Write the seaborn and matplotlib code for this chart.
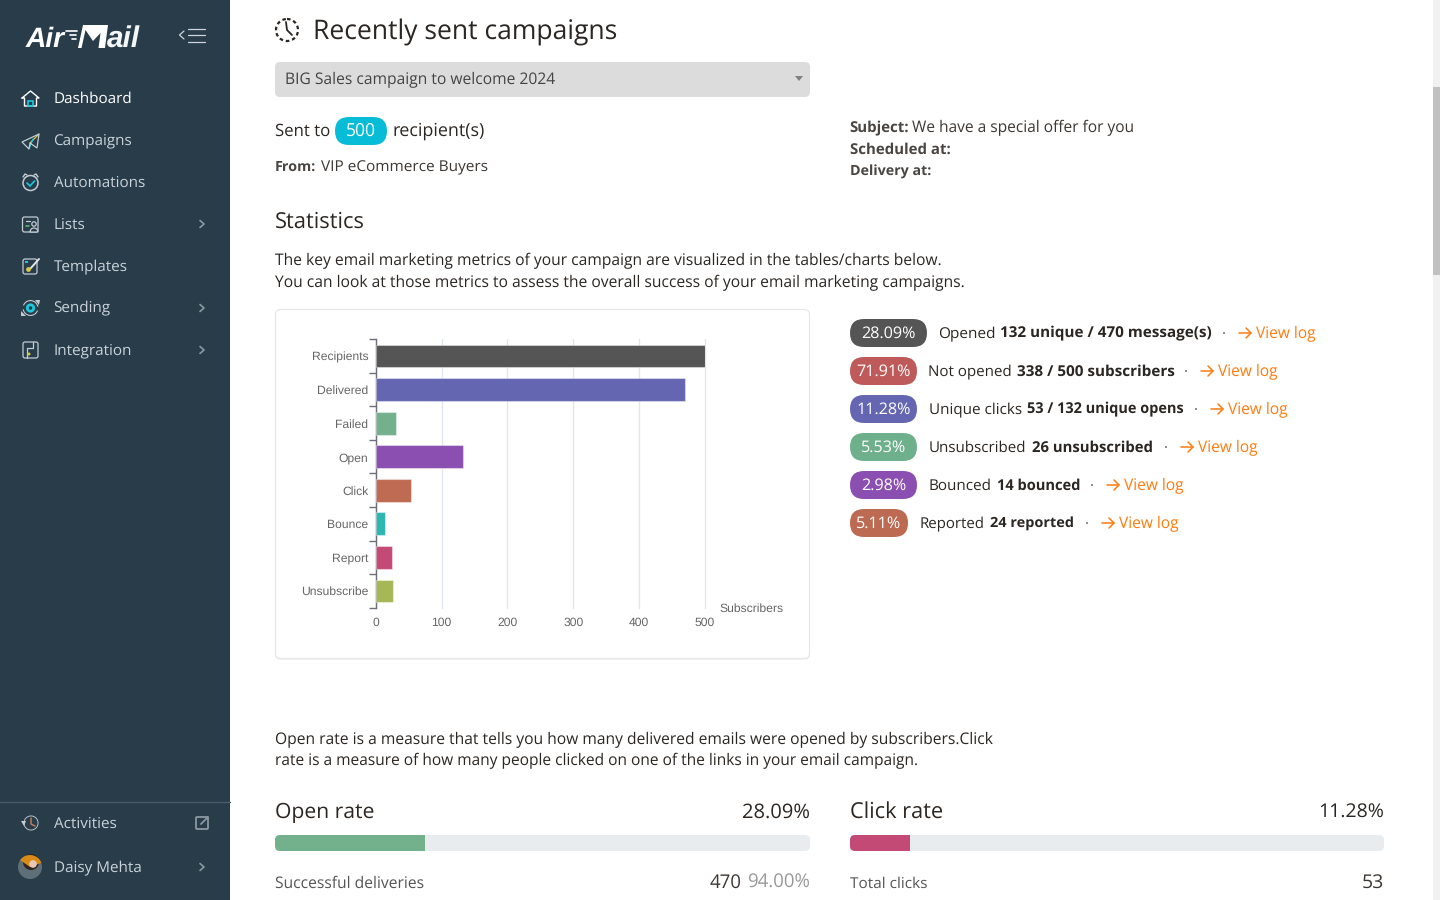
import numpy as np
import pandas as pd
import seaborn as sns
import matplotlib
matplotlib.use("Agg")
import matplotlib.pyplot as plt
from matplotlib.patches import FancyBboxPatch, Rectangle, Circle, Polygon, Wedge

# ---------- data ----------
categories = ["Recipients", "Delivered", "Failed", "Open", "Click", "Bounce", "Report", "Unsubscribe"]
subscribers = [500, 470, 30, 132, 53, 14, 24, 26]
bar_colors = ["#555555", "#6466b2", "#73b18d", "#8a4fb0", "#bf6a52", "#2db7b3", "#c34a75", "#a5b855"]
x_ticks = [0, 100, 200, 300, 400, 500]
open_rate = 28.09
click_rate = 11.28
nav_items = ["Dashboard", "Campaigns", "Automations", "Lists", "Templates", "Sending", "Integration"]
nav_with_chevron = ["Lists", "Sending", "Integration"]
metric_pct = ["28.09%", "71.91%", "11.28%", "5.53%", "2.98%", "5.11%"]
metric_lead = ["Opened", "Not opened", "Unique clicks", "Unsubscribed", "Bounced", "Reported"]
metric_bold = ["132 unique / 470 message(s)", "338 / 500 subscribers", "53 / 132 unique opens",
               "26 unsubscribed", "14 bounced", "24 reported"]
metric_colors = ["#555555", "#bf5a5a", "#6466b2", "#6fb08c", "#8a4fb0", "#bd6a52"]

FONT = "Open Sans"
sns.set_theme(style="white")
plt.rcParams["font.family"] = [FONT, "DejaVu Sans"]
plt.rcParams["text.hinting"] = "no_hinting"
plt.rcParams["text.hinting_factor"] = 8

fig = plt.figure(figsize=(14.4, 9), dpi=100, facecolor="white")
ui = fig.add_axes([0, 0, 1, 1], zorder=0)
ui.set_xlim(0, 1440)
ui.set_ylim(900, 0)
ui.axis("off")
renderer = fig.canvas.get_renderer()


def T(x0, x1, y, s, color="#2b2622", weight="normal", size=10, family=None, style="normal"):
    """Text whose font size is fitted so it spans x0..x1 px, with its baseline at y."""
    t = ui.text(x0, y, s, color=color, fontweight=weight, fontsize=size, va="baseline", ha="left",
                family=family or FONT, style=style, zorder=5)
    for _ in range(3):
        w = t.get_window_extent(renderer).width
        t.set_fontsize(t.get_fontsize() * (x1 - x0) / w)
    return t


def F(x, y, s, size, color="#2b2622", weight="normal", ha="left"):
    """Text at a fixed font size."""
    return ui.text(x, y, s, color=color, fontweight=weight, fontsize=size, va="baseline", ha=ha,
                   family=FONT, zorder=5)


def box(x0, y0, x1, y1, r, fc, ec="none", lw=0, z=1):
    p = FancyBboxPatch((x0 + r, y0 + r), x1 - x0 - 2 * r, y1 - y0 - 2 * r,
                       boxstyle=f"round,pad={r},rounding_size={r}", fc=fc, ec=ec, lw=lw, zorder=z,
                       mutation_aspect=1)
    ui.add_patch(p)
    return p


def L(xs, ys, c, lw=1.0, z=4, **kw):
    ui.plot(xs, ys, color=c, lw=lw, zorder=z, solid_capstyle="round", **kw)


# ---------- sidebar ----------
SIDE = "#283c4a"
ICON = "#c3ccd2"
CYAN = "#1ec8dc"
YEL = "#d6c94a"
ui.add_patch(Rectangle((0, 0), 230, 900, fc=SIDE, ec="none", zorder=1))
T(26, 65, 47, "Air", color="white", weight="bold", size=20, family="Liberation Sans", style="italic")
for yy, a, b in [(31, 66, 77), (35, 70, 76), (39, 72, 76)]:
    L([a, b], [yy, yy], "white", 1.2)
ui.add_patch(Polygon([[83, 25], [108, 25], [105, 48], [98.5, 48], [100.5, 33], [93, 41], [85.5, 30], [81.5, 48], [78, 48]],
                     fc="white", ec="none", zorder=5))
T(107, 140, 48, "ail", color="#f4f6f7", weight="bold", size=20, family="Liberation Sans", style="italic")
L([184, 179.5, 184], [31, 35, 39], "#cfd6db", 0.9)
for yy, a in [(29, 188), (35, 188), (42, 188)]:
    L([a, 205], [yy, yy], "#cfd6db", 0.9)

nav_y = [98, 140, 182, 224, 266, 308, 350]
for name, yy in zip(nav_items, nav_y):
    F(53.5, yy + 4.7, name, 11.0, color="white" if name == "Dashboard" else "#cbd3d9")
    if name in nav_with_chevron:
        L([200, 204, 200], [yy - 3.5, yy, yy + 3.5], "#8b98a2", 1.2)

# nav icons (small line drawings)
L([22, 30.5, 39, 36.5, 36.5, 24.5, 24.5, 22], [98, 91, 98, 98, 106, 106, 98, 98], "white", 1.0)
ui.add_patch(Rectangle((28.3, 101), 4.4, 5, fc="none", ec=CYAN, lw=1.2, zorder=5))
ui.add_patch(Polygon([[22, 142], [39, 134], [37, 148], [30, 143], [29, 149]], fc="none", ec=ICON, lw=0.9, zorder=5))
L([30, 39], [143, 134], YEL, 0.9)
L([29, 33], [149, 139], CYAN, 0.8)
ui.add_patch(Circle((30.5, 183), 7.5, fc="none", ec=ICON, lw=1.1, zorder=5))
L([23, 25, 27], [177, 174, 175], ICON, 1.0)
L([34, 36, 38], [175, 174, 177], ICON, 1.0)
L([27, 30, 34.5], [183, 186, 181], CYAN, 1.2)
box(22.5, 217, 38, 232, 2, "none", ICON, 0.9, 5)
ui.add_patch(Circle((34, 224), 2.2, fc=SIDE, ec=ICON, lw=0.9, zorder=6))
ui.add_patch(Wedge((34, 232), 4, 180, 360, fc=SIDE, ec=ICON, lw=0.9, zorder=6))
L([26, 30], [221, 221], ICON, 0.9)
L([26, 29], [226, 226], "#5fc46a", 1.1)
box(23, 259, 37, 274, 2, "none", ICON, 0.9, 5)
L([30, 39], [269, 259], "#e3e7ea", 1.4, z=6)
ui.add_patch(Circle((28.5, 269.5), 2.4, fc=YEL, ec="none", zorder=6))
ui.add_patch(Rectangle((25, 261), 2.5, 2, fc=CYAN, ec="none", zorder=6))
ui.add_patch(Wedge((30.5, 308), 8, 20, 170, width=1.1, fc=ICON, ec="none", zorder=5))
ui.add_patch(Wedge((30.5, 308), 8, 200, 350, width=1.1, fc=ICON, ec="none", zorder=5))
ui.add_patch(Polygon([[35, 300], [40, 300], [39, 305]], fc=ICON, ec="none", zorder=5))
ui.add_patch(Polygon([[21, 311], [26, 316], [21, 316]], fc=ICON, ec="none", zorder=5))
ui.add_patch(Circle((30.5, 308), 3.2, fc="none", ec=CYAN, lw=2, zorder=5))
box(23, 342, 38, 358, 2, "none", ICON, 0.9, 5)
L([27, 27, 33, 33], [358, 348, 348, 342], ICON, 0.9)
ui.add_patch(Circle((29, 354), 1.5, fc=YEL, ec="none", zorder=6))

ui.plot([0, 230], [802, 802], color="#4a5b67", lw=1, zorder=3)
F(53.5, 828, "Activities", 11.0, color="#cbd3d9")
F(53.5, 872, "Daisy Mehta", 11.0, color="#cbd3d9")
ui.add_patch(Wedge((31, 823), 7.5, -210, 150, width=0.9, fc=ICON, ec="none", zorder=5))
L([31, 31, 35], [818, 824, 826], "#d0805a", 1)
ui.add_patch(Polygon([[21, 821], [26, 821], [24, 826]], fc=ICON, ec="none", zorder=5))
box(196, 817, 208, 829, 1, "none", "#8b98a2", 1.3, 5)
L([201, 208], [824, 817], "#8b98a2", 1.3)
L([200, 204, 200], [863.5, 867, 870.5], "#8b98a2", 1.2)
ui.add_patch(Circle((30, 867), 12, fc="#5f6f78", ec="none", zorder=5))
ui.add_patch(Wedge((31, 862), 8, 0, 360, fc="#2e2523", ec="none", zorder=6))
ui.add_patch(Wedge((30, 867), 12, 215, 340, fc="#d98a17", ec="none", zorder=7))
ui.add_patch(Circle((33, 864), 3.8, fc="#e9c8ba", ec="none", zorder=8))

# ---------- header ----------
ui.add_patch(Circle((287, 30), 11, fc="none", ec="#2b2622", lw=1.6, ls=(0, (1.6, 1.3)), zorder=5))
L([286, 287, 292], [22, 30, 35], "#2b2622", 1.3)
T(313, 618, 39, "Recently sent campaigns", size=18)

box(275, 62, 810, 97, 5, "#dcdcdc")
T(285, 556, 84, "BIG Sales campaign to welcome 2024", color="#444444", size=11)
ui.add_patch(Polygon([[795, 76], [803, 76], [799, 81]], fc="#808080", ec="none", zorder=5))

T(275, 330, 136, "Sent to", size=12)
box(335, 117, 387, 145, 14, "#06bcd6")
T(346, 376, 136, "500", color="white", size=12)
T(392, 484, 136, "recipient(s)", size=12)
T(275, 316, 171, "From:", color="#4a4541", weight="bold", size=10)
T(321, 488, 171, "VIP eCommerce Buyers", color="#3c3733", size=10)
T(849.5, 909, 132, "Subject:", color="#4a4541", weight="bold", size=10)
T(912, 1135, 132, "We have a special offer for you", color="#3c3733", size=10)
T(849.5, 950, 154, "Scheduled at:", color="#4a4541", weight="bold", size=10)
T(849.5, 931, 175.5, "Delivery at:", color="#4a4541", weight="bold", size=10)

T(275, 365, 228, "Statistics", size=15)
T(275, 940, 265, "The key email marketing metrics of your campaign are visualized in the tables/charts below.", size=10)
T(275, 966, 287, "You can look at those metrics to assess the overall success of your email marketing campaigns.", size=10)

# ---------- chart card ----------
box(275, 310, 810, 659.5, 5, "#e8e8e8", z=1)
box(275.5, 309.5, 809.5, 658.5, 5, "white", "#e6e6e6", 0.8, z=1.5)

ax = fig.add_axes([375.8 / 1440, 1 - 607.8 / 900, (705 - 375.8) / 1440, (607.8 - 339.2) / 900], zorder=2)
ax.patch.set_alpha(0)
df = pd.DataFrame({"category": categories, "subscribers": subscribers})
sns.barplot(data=df, x="subscribers", y="category", hue="category", palette=bar_colors, order=categories,
            hue_order=categories, dodge=False, legend=False, width=0.68, ax=ax, zorder=3,
            edgecolor="#ffffff66", linewidth=0.8, saturation=1)
ax.set_xlim(0, 500)
ax.set_ylim(len(categories) - 0.5, -0.5)
ax.set_xticks(x_ticks)
ax.set_xlabel("")
ax.set_ylabel("")
ax.grid(False)
ax.xaxis.grid(True, color="#e0e6f1", lw=1)
for g in ax.get_xgridlines():
    g.set_clip_on(False)
ax.set_axisbelow(True)
ax.tick_params(axis="x", length=0, pad=7, labelsize=8.7, labelcolor="#666666")
ax.tick_params(axis="y", which="major", length=0, pad=5.5, labelsize=8.7, labelcolor="#666666")
ax.set_yticks(np.arange(len(categories) + 1) - 0.5, minor=True)
ax.tick_params(axis="y", which="minor", length=5, width=1, color="#6e7079", left=True)
for s in ["top", "right", "bottom"]:
    ax.spines[s].set_visible(False)
ax.spines["left"].set_color("#6e7079")
ax.spines["left"].set_linewidth(1)
for lab in ax.get_xticklabels() + ax.get_yticklabels():
    lab.set_family("Liberation Sans")
ui.text(719.5, 611.5, "Subscribers", color="#666666", fontsize=8.7, family="Liberation Sans", va="baseline", zorder=5)

# ---------- metrics column ----------
row_y = [333, 371, 409, 447, 485, 523]
pill_x1 = [927, 917, 917, 917, 917, 908]
lead_x = [(938.5, 996), (928, 1012), (929, 1022), (929, 1027), (929, 992), (919.5, 985)]
bold_x = [(1000.5, 1211), (1017, 1174), (1027, 1184), (1032, 1153), (997, 1080), (990, 1074)]
arrow_x = [1239, 1201, 1211, 1181, 1107, 1102]
ORANGE = "#ff7b0f"
for i in range(len(metric_pct)):
    y = row_y[i]
    box(850, y - 14, pill_x1[i], y + 14, 14, metric_colors[i])
    F((850 + pill_x1[i]) / 2, y + 5.2, metric_pct[i], 11.6, color="white", ha="center")
    T(lead_x[i][0], lead_x[i][1], y + 4.7, metric_lead[i], size=10.5)
    T(bold_x[i][0], bold_x[i][1], y + 4.7, metric_bold[i], weight="bold", size=10.5)
    a = arrow_x[i]
    ui.add_patch(Circle((a - 15, y), 0.8, fc="#2b2622", ec="none", zorder=5))
    L([a, a + 12], [y, y], ORANGE, 1.1)
    L([a + 7, a + 12, a + 7], [y - 5, y, y + 5], ORANGE, 1.1)
    T(a + 17, a + 77, y + 4.7, "View log", color=ORANGE, size=10.5)

# ---------- lower section ----------
T(275, 988, 744, "Open rate is a measure that tells you how many delivered emails were opened by subscribers.Click", size=10)
T(275, 920, 765, "rate is a measure of how many people clicked on one of the links in your email campaign.", size=10)
T(275, 375, 818, "Open rate", size=15)
F(810, 818, f"{open_rate:.2f}%", 14.5, ha="right")
T(850, 943, 818, "Click rate", size=15)
F(1384, 818, f"{click_rate:.2f}%", 14, ha="right")

for (x0, x1, val, col) in [(275, 810, open_rate, "#73b18d"), (850, 1384, click_rate, "#c34a75")]:
    track = box(x0, 835, x1, 851, 5, "#e9ecef")
    bar_ax = fig.add_axes([x0 / 1440, 1 - 851 / 900, (x1 - x0) / 1440, 16 / 900], zorder=1.5)
    bar_ax.patch.set_alpha(0)
    sns.barplot(x=[val], y=["rate"], color=col, saturation=1, width=1.0, ax=bar_ax, linewidth=0)
    bar_ax.set_xlim(0, 100)
    bar_ax.axis("off")
    for p in bar_ax.patches:
        p.set_clip_path(track)

T(275, 423, 888, "Successful deliveries", color="#555555", size=11)
T(710, 742, 888, "470", color="#3c3733", size=13)
T(747, 809.5, 888, "94.00%", color="#999999", size=13)
T(850, 928, 888, "Total clicks", color="#555555", size=11)
F(1384, 888, "53", 14, color="#3c3733", ha="right")

# ---------- scrollbar ----------
ui.add_patch(Rectangle((1433, 0), 7, 900, fc="#f1f1f1", ec="none", zorder=1))
ui.add_patch(Rectangle((1433, 87), 7, 188, fc="#c1c1c1", ec="none", zorder=2))

fig.savefig("out.png", dpi=100, facecolor="white")
